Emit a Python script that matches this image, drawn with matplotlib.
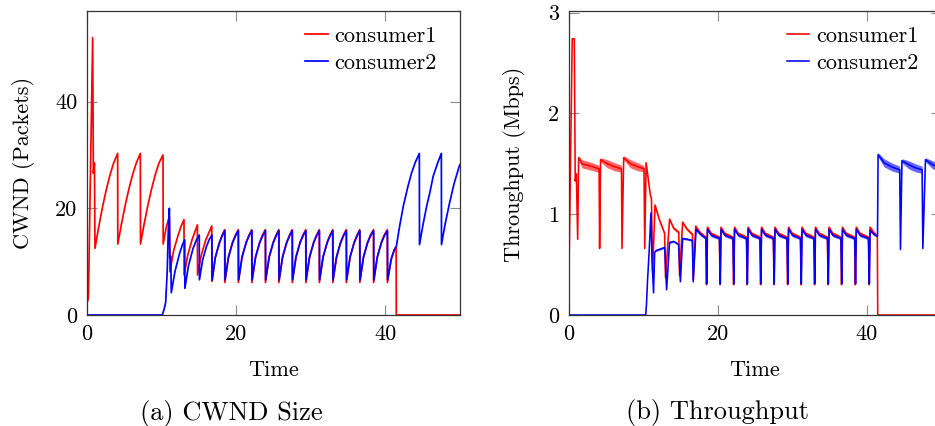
import numpy as np
import matplotlib
matplotlib.use("Agg")
import matplotlib.pyplot as plt


# ---- (a) CWND size, packets ----
cwnd1_t = [
    0.0, 0.15, 0.2, 0.76, 0.85, 1.0,
    1.07, 1.57, 2.07, 2.57, 3.07, 3.57, 4.11,
    4.13, 4.61, 5.11, 5.61, 6.11, 6.61, 7.15,
    7.17, 7.65, 8.15, 8.65, 9.15, 9.65, 10.19,
    10.21, 10.6, 11.04,
    11.12, 11.6, 12.2, 12.6, 13.0,
    13.02, 13.5, 14.1, 14.8,
    14.82, 15.3, 15.9, 16.72,
    16.74, 17.2, 17.75, 18.1, 18.45,
    18.47, 18.95, 19.50, 19.90, 20.27,
    20.29, 20.77, 21.32, 21.72, 22.08,
    22.10, 22.58, 23.13, 23.53, 23.90,
    23.92, 24.40, 24.95, 25.35, 25.70,
    25.72, 26.20, 26.75, 27.15, 27.50,
    27.52, 28.00, 28.55, 28.95, 29.32,
    29.34, 29.82, 30.37, 30.77, 31.13,
    31.15, 31.63, 32.18, 32.58, 32.93,
    32.95, 33.43, 33.98, 34.38, 34.75,
    34.77, 35.25, 35.80, 36.20, 36.55,
    36.57, 37.05, 37.60, 38.00, 38.40,
    38.42, 38.90, 39.45, 39.85, 40.25,
    40.27, 40.75, 41.20, 41.44,
    41.46, 50.0,
]
cwnd1_v = [
    2.2, 3.0, 4.0, 52.0, 26.6, 28.5,
    12.5, 16.5, 20.2, 23.4, 26.2, 28.5, 30.3,
    13.3, 17.0, 20.5, 23.6, 26.3, 28.5, 30.3,
    13.3, 17.0, 20.5, 23.6, 26.3, 28.5, 30.0,
    13.3, 16.3, 18.5,
    8.1, 12.0, 14.9, 16.6, 17.9,
    7.5, 11.2, 14.2, 16.9,
    7.5, 11.1, 14.0, 16.7,
    6.3, 10.8, 13.6, 14.9, 16.0,
    6.1, 10.7, 13.6, 15.0, 16.0,
    6.1, 10.7, 13.6, 15.0, 16.0,
    6.1, 10.7, 13.6, 15.0, 16.0,
    6.1, 10.7, 13.6, 15.0, 16.0,
    6.1, 10.7, 13.6, 15.0, 16.0,
    6.1, 10.7, 13.6, 15.0, 16.0,
    6.1, 10.7, 13.6, 15.0, 16.0,
    6.1, 10.7, 13.6, 15.0, 16.0,
    6.1, 10.7, 13.6, 15.0, 16.0,
    6.1, 10.7, 13.6, 15.0, 16.0,
    6.1, 10.7, 13.6, 15.0, 16.0,
    6.1, 10.7, 13.6, 15.0, 16.0,
    6.1, 10.3, 12.2, 12.8,
    0.0, 0.0,
]

cwnd2_t = [
    0.0, 10.1, 10.3, 10.48, 10.55, 10.75, 10.9, 11.04, 11.1, 11.22, 11.3,
    11.8, 12.4, 12.8, 13.1,
    13.12, 13.6, 14.2, 14.7, 15.05,
    15.07, 15.5, 16.0, 16.4, 16.75,
    16.77, 17.2, 17.75, 18.1, 18.48,
    18.50, 18.98, 19.53, 19.93, 20.30,
    20.32, 20.80, 21.35, 21.75, 22.11,
    22.13, 22.61, 23.16, 23.56, 23.93,
    23.95, 24.43, 24.98, 25.38, 25.73,
    25.75, 26.23, 26.78, 27.18, 27.53,
    27.55, 28.03, 28.58, 28.98, 29.35,
    29.37, 29.85, 30.40, 30.80, 31.16,
    31.18, 31.66, 32.21, 32.61, 32.96,
    32.98, 33.46, 34.01, 34.41, 34.78,
    34.80, 35.28, 35.83, 36.23, 36.58,
    36.60, 37.08, 37.63, 38.03, 38.43,
    38.45, 38.93, 39.48, 39.88, 40.28,
    40.30, 40.8, 41.2, 41.46, 41.9, 42.4, 43.0, 43.5, 44.0, 44.55,
    44.57, 45.05, 45.5, 46.0, 46.4, 47.0, 47.5,
    47.52, 48.0, 48.6, 49.2, 49.9, 50.0,
]
cwnd2_v = [
    0.0, 0.0, 0.9, 1.9, 2.5, 8.1, 16.0, 20.0, 10.7, 11.0, 4.2,
    8.2, 11.5, 13.2, 14.1,
    5.0, 9.2, 12.4, 14.2, 15.0,
    6.6, 10.3, 12.8, 14.2, 15.0,
    6.5, 10.8, 13.5, 14.8, 15.8,
    6.6, 11.0, 13.6, 14.9, 15.8,
    6.6, 11.0, 13.6, 14.9, 15.8,
    6.6, 11.0, 13.6, 14.9, 15.8,
    6.6, 11.0, 13.6, 14.9, 15.8,
    6.6, 11.0, 13.6, 14.9, 15.8,
    6.6, 11.0, 13.6, 14.9, 15.8,
    6.6, 11.0, 13.6, 14.9, 15.8,
    6.6, 11.0, 13.6, 14.9, 15.8,
    6.6, 11.0, 13.6, 14.9, 15.8,
    6.6, 11.0, 13.6, 14.9, 15.8,
    6.6, 11.0, 13.6, 14.9, 15.8,
    6.6, 11.0, 13.6, 14.9, 15.8,
    6.6, 10.6, 12.3, 12.8, 16.6, 20.4, 24.0, 26.6, 28.6, 30.3,
    13.2, 17.0, 20.2, 23.2, 26.0, 28.5, 30.3,
    13.2, 17.0, 21.0, 24.6, 27.9, 28.2,
]

# ---- (b) throughput, Mbps (value and half-width of the jitter band) ----
thr1_t = [
    0.05, 0.50, 0.78, 0.90, 1.05, 1.23,
    1.36, 1.8, 2.8, 4.10, 4.17,
    4.30, 5.2, 6.2, 7.10, 7.17,
    7.40, 8.3, 9.3, 10.12, 10.22,
    10.40, 10.70, 10.95, 11.12, 11.27,
    11.60, 12.20, 12.88, 13.00,
    13.55, 14.10, 14.78, 14.88,
    15.30, 15.90, 16.62, 16.72,
    17.05, 17.60, 18.40,
    18.50, 18.62, 19.10, 20.22,
    20.32, 20.44, 20.92, 22.03,
    22.13, 22.25, 22.73, 23.85,
    23.95, 24.07, 24.55, 25.65,
    25.75, 25.87, 26.35, 27.45,
    27.55, 27.67, 28.15, 29.27,
    29.37, 29.49, 29.97, 31.08,
    31.18, 31.30, 31.78, 32.88,
    32.98, 33.10, 33.58, 34.70,
    34.80, 34.92, 35.40, 36.50,
    36.60, 36.72, 37.20, 38.35,
    38.45, 38.57, 39.05, 40.20,
    40.30, 40.42, 40.90, 41.40, 41.45, 50.0,
]
thr1_v = [
    0.33, 2.74, 2.74, 1.33, 1.40, 0.75,
    1.56, 1.50, 1.48, 1.45, 0.66,
    1.54, 1.50, 1.47, 1.45, 0.66,
    1.56, 1.50, 1.47, 1.45, 0.66,
    1.51, 1.34, 1.20, 1.15, 0.42,
    1.09, 0.94, 0.81, 0.37,
    0.95, 0.86, 0.82, 0.39,
    0.92, 0.85, 0.80, 0.35,
    0.88, 0.82, 0.77,
    0.30, 0.87, 0.81, 0.77,
    0.30, 0.87, 0.81, 0.77,
    0.30, 0.87, 0.81, 0.77,
    0.30, 0.87, 0.81, 0.77,
    0.30, 0.87, 0.81, 0.77,
    0.30, 0.87, 0.81, 0.77,
    0.30, 0.87, 0.81, 0.77,
    0.30, 0.87, 0.81, 0.77,
    0.30, 0.87, 0.81, 0.77,
    0.30, 0.87, 0.81, 0.77,
    0.30, 0.87, 0.81, 0.77,
    0.30, 0.87, 0.81, 0.77,
    0.30, 0.87, 0.82, 0.78, 0.0, 0.0,
]
thr1_s = [
    0, 0, 0, 0, 0, 0,
    0.02, 0.04, 0.04, 0.035, 0,
    0.02, 0.04, 0.04, 0.035, 0,
    0.02, 0.04, 0.04, 0.03, 0,
    0.01, 0.01, 0.01, 0, 0,
    0.015, 0.015, 0.015, 0,
    0.015, 0.015, 0.015, 0,
    0.015, 0.015, 0.015, 0,
    0.015, 0.015, 0.015,
    0, 0.015, 0.015, 0.015,
    0, 0.015, 0.015, 0.015,
    0, 0.015, 0.015, 0.015,
    0, 0.015, 0.015, 0.015,
    0, 0.015, 0.015, 0.015,
    0, 0.015, 0.015, 0.015,
    0, 0.015, 0.015, 0.015,
    0, 0.015, 0.015, 0.015,
    0, 0.015, 0.015, 0.015,
    0, 0.015, 0.015, 0.015,
    0, 0.015, 0.015, 0.015,
    0, 0.015, 0.015, 0.015,
    0, 0.015, 0.015, 0.01, 0, 0,
]

thr2_t = [
    0.0, 10.35, 10.45, 10.60, 10.80, 11.05, 11.20, 11.40, 11.55,
    11.75, 12.90, 13.15,
    13.55, 14.10, 14.75, 15.00,
    15.30, 16.00, 16.60, 16.72,
    17.10, 17.70, 18.42,
    18.53, 18.63, 19.15, 20.24,
    20.35, 20.45, 20.97, 22.05,
    22.16, 22.26, 22.78, 23.87,
    23.98, 24.08, 24.60, 25.67,
    25.78, 25.88, 26.40, 27.47,
    27.58, 27.68, 28.20, 29.29,
    29.40, 29.50, 30.02, 31.10,
    31.21, 31.31, 31.83, 32.90,
    33.01, 33.11, 33.63, 34.72,
    34.83, 34.93, 35.45, 36.52,
    36.63, 36.73, 37.25, 38.37,
    38.48, 38.58, 39.10, 40.22,
    40.33, 40.43, 40.95, 41.42,
    41.50, 42.30, 43.30, 44.40, 44.50,
    44.70, 45.60, 46.50, 47.40, 47.50,
    47.85, 48.80, 50.0,
]
thr2_v = [
    0.0, 0.0, 0.10, 0.35, 0.61, 1.01, 0.55, 0.22, 0.62,
    0.64, 0.67, 0.25,
    0.72, 0.73, 0.70, 0.33,
    0.76, 0.75, 0.74, 0.33,
    0.85, 0.80, 0.76,
    0.31, 0.85, 0.79, 0.76,
    0.31, 0.85, 0.79, 0.76,
    0.31, 0.85, 0.79, 0.76,
    0.31, 0.85, 0.79, 0.76,
    0.31, 0.85, 0.79, 0.76,
    0.31, 0.85, 0.79, 0.76,
    0.31, 0.85, 0.79, 0.76,
    0.31, 0.85, 0.79, 0.76,
    0.31, 0.85, 0.79, 0.76,
    0.31, 0.85, 0.79, 0.76,
    0.31, 0.85, 0.79, 0.76,
    0.31, 0.85, 0.79, 0.76,
    0.31, 0.84, 0.80, 0.78,
    1.59, 1.51, 1.47, 1.44, 0.65,
    1.53, 1.49, 1.46, 1.44, 0.66,
    1.54, 1.49, 1.46,
]
thr2_s = [
    0, 0, 0, 0, 0, 0, 0, 0, 0,
    0.01, 0.01, 0,
    0.01, 0.01, 0.01, 0,
    0.01, 0.01, 0.01, 0,
    0.015, 0.015, 0.015,
    0, 0.015, 0.015, 0.015,
    0, 0.015, 0.015, 0.015,
    0, 0.015, 0.015, 0.015,
    0, 0.015, 0.015, 0.015,
    0, 0.015, 0.015, 0.015,
    0, 0.015, 0.015, 0.015,
    0, 0.015, 0.015, 0.015,
    0, 0.015, 0.015, 0.015,
    0, 0.015, 0.015, 0.015,
    0, 0.015, 0.015, 0.015,
    0, 0.015, 0.015, 0.015,
    0, 0.015, 0.015, 0.015,
    0, 0.015, 0.015, 0.01,
    0.02, 0.04, 0.04, 0.035, 0,
    0.02, 0.04, 0.04, 0.035, 0,
    0.02, 0.04, 0.04,
]

labels = ["consumer1", "consumer2"]
colors = ["#ff0000", "#0000ff"]

W, H = 935, 426


def style_axes(ax, ylim, yticks):
    ax.set_xlim(0, 50)
    ax.set_ylim(*ylim)
    ax.set_xticks([0, 20, 40])
    ax.set_yticks(yticks)
    ax.tick_params(direction="in", length=7.5, width=0.8, color="#8a8a8a",
                   top=True, right=True, labelsize=16, pad=7)
    for sp in ax.spines.values():
        sp.set_color("#333333")
        sp.set_linewidth(0.9)
    ax.legend(loc="upper right", bbox_to_anchor=(0.9375, 0.95), frameon=False,
              fontsize=16, handlelength=1.0, handletextpad=0.3,
              labelspacing=0.35, borderpad=0, borderaxespad=0)


def band(ax, t, v, s, color):
    t = np.array(t)
    v = np.array(v)
    s = np.array(s)
    ax.fill_between(t, v - s, v + s, color=color, alpha=0.6, lw=0)


def main():
    plt.rcParams["font.family"] = "cmr10"
    plt.rcParams["mathtext.fontset"] = "cm"
    plt.rcParams["axes.unicode_minus"] = False

    fig = plt.figure(figsize=(W / 100, H / 100), dpi=100)
    ax1 = fig.add_axes([87 / W, 111 / H, 373 / W, 304 / H])
    ax2 = fig.add_axes([568.5 / W, 111 / H, 373 / W, 304 / H])

    ax1.plot(cwnd1_t, cwnd1_v, color=colors[0], lw=1.25, label=labels[0])
    ax1.plot(cwnd2_t, cwnd2_v, color=colors[1], lw=1.25, label=labels[1])
    style_axes(ax1, (0, 57), [0, 20, 40])

    band(ax2, thr1_t, thr1_v, thr1_s, colors[0])
    ax2.plot(thr1_t, thr1_v, color=colors[0], lw=1.15, label=labels[0])
    band(ax2, thr2_t, thr2_v, thr2_s, colors[1])
    ax2.plot(thr2_t, thr2_v, color=colors[1], lw=1.15, label=labels[1])
    style_axes(ax2, (0, 3.015), [0, 1, 2, 3])

    # axis titles and sub-captions, placed in figure pixels
    def px(x, y):
        return x / W, 1 - y / H

    fig.text(*px(29.5, 163), "CWND (Packets)", rotation=90, rotation_mode="anchor",
             ha="center", va="baseline", fontsize=16)
    fig.text(*px(520.5, 164), "Throughput (Mbps)", rotation=90, rotation_mode="anchor",
             ha="center", va="baseline", fontsize=16)
    fig.text(*px(273.5, 376), "Time", ha="center", va="baseline", fontsize=16)
    fig.text(*px(755, 376), "Time", ha="center", va="baseline", fontsize=16)
    fig.text(*px(231, 420), "(a) CWND Size", ha="center", va="baseline", fontsize=19)
    fig.text(*px(717.5, 419.5), "(b) Throughput", ha="center", va="baseline", fontsize=19)

    fig.savefig("out.png", dpi=100)


if __name__ == "__main__":
    main()
